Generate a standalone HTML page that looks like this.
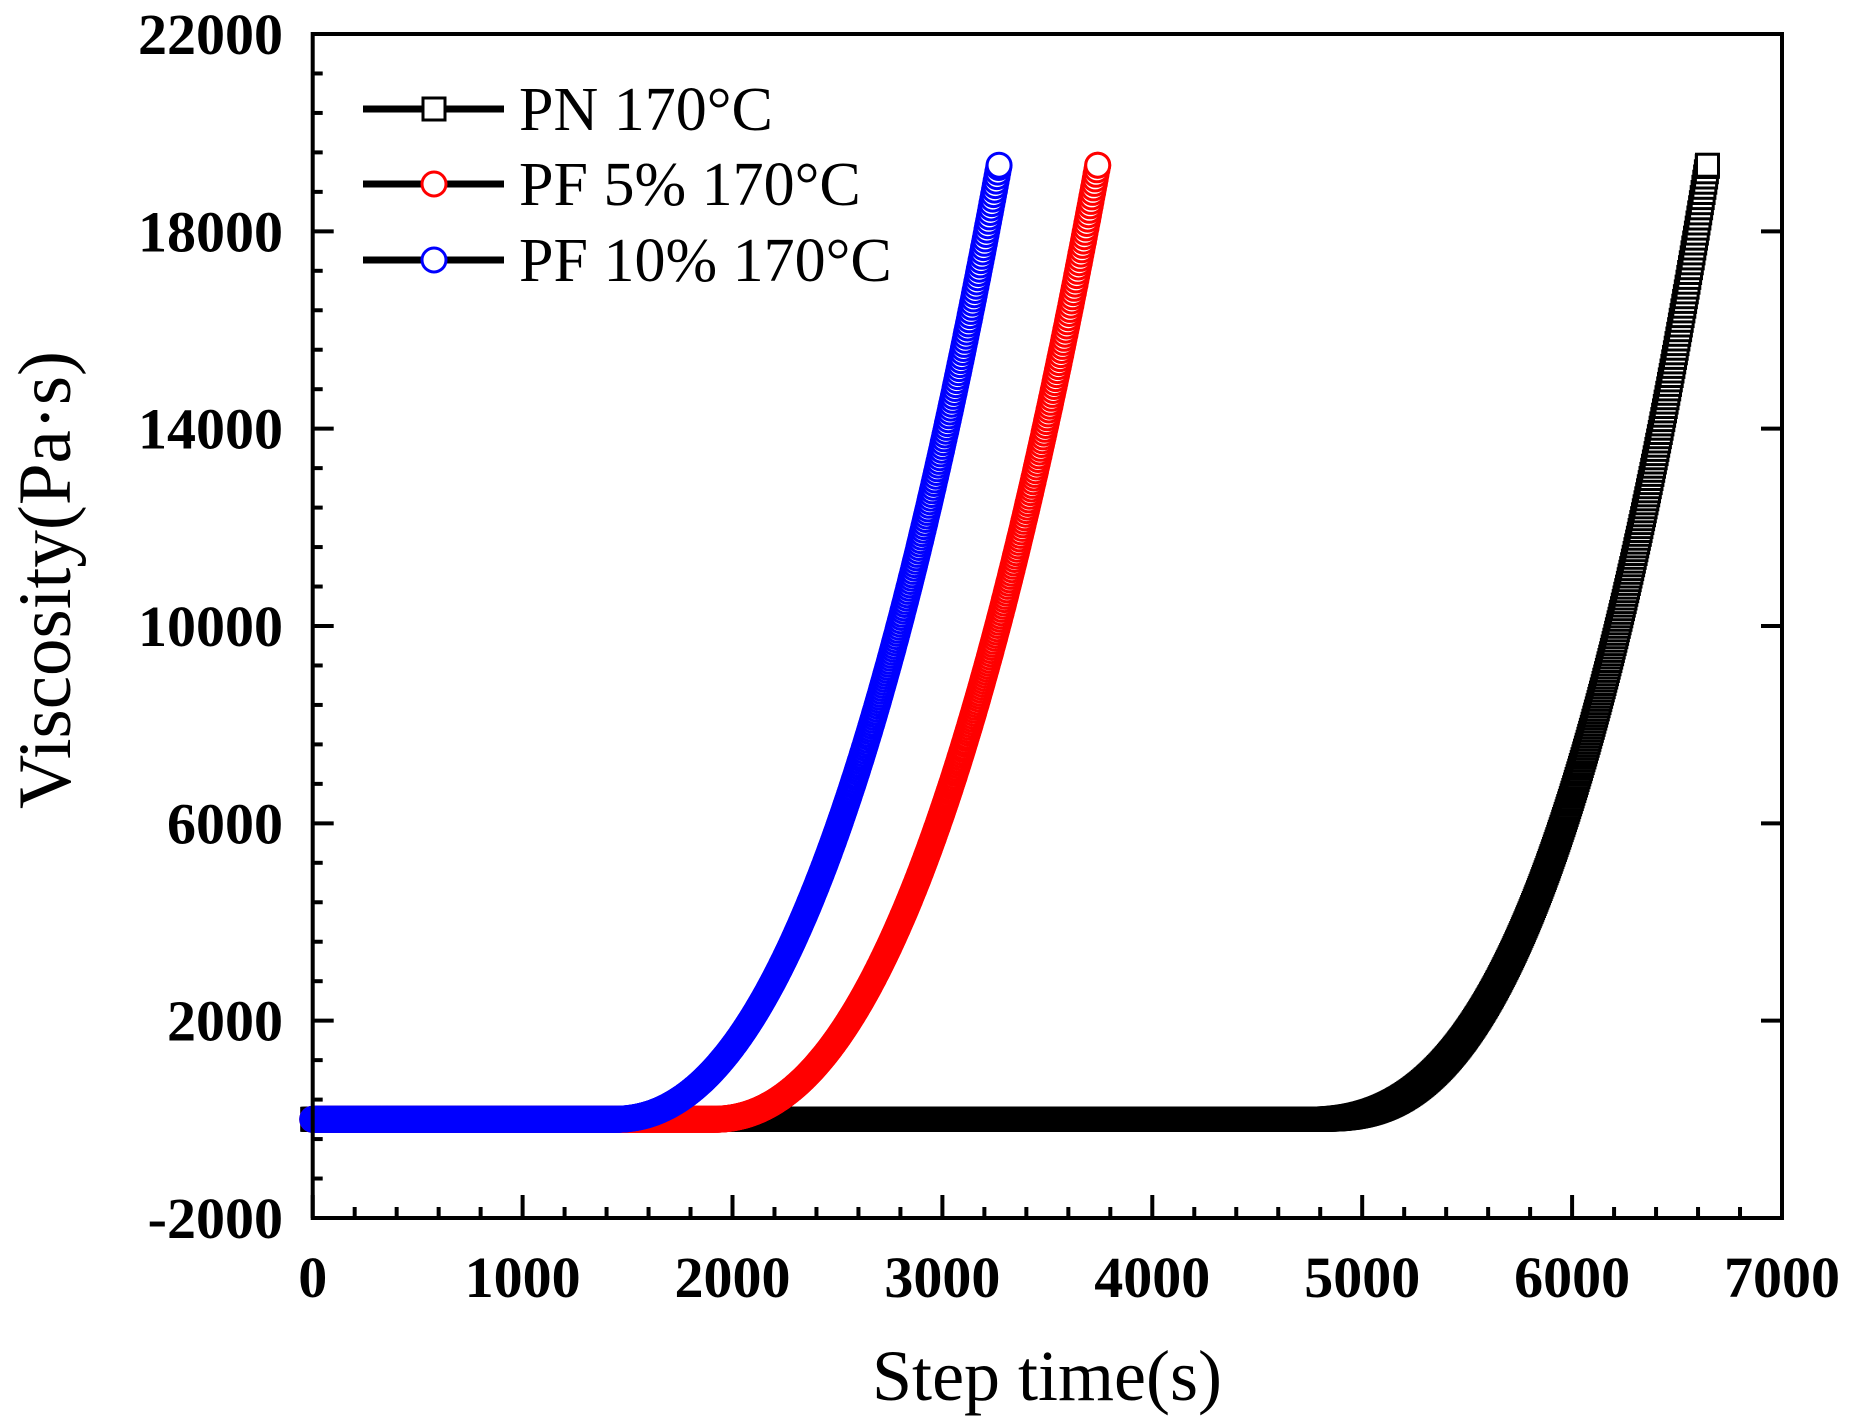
<!DOCTYPE html>
<html><head><meta charset="utf-8"><style>
html,body{margin:0;padding:0;background:#fff;}
svg{display:block;}
text{font-family:"Liberation Serif","Times New Roman",serif;}
</style></head><body>
<svg id="s" width="1850" height="1427" viewBox="0 0 1850 1427" xmlns="http://www.w3.org/2000/svg">
<rect width="1850" height="1427" fill="#fff"/>
<g id="data"></g>
<g id="axes"></g>
<g font-size="62" fill="#000">
<line x1="363" y1="109" x2="504" y2="109" stroke="#000" stroke-width="7"/>
<rect x="423" y="98" width="22" height="22" fill="#fff" stroke="#000" stroke-width="3"/>
<text x="519" y="130">PN 170°C</text>
<line x1="363" y1="184" x2="504" y2="184" stroke="#000" stroke-width="7"/>
<circle cx="434" cy="184" r="12" fill="#fff" stroke="#f00" stroke-width="3"/>
<text x="519" y="205">PF 5% 170°C</text>
<line x1="363" y1="260" x2="504" y2="260" stroke="#000" stroke-width="7"/>
<circle cx="434" cy="260" r="12" fill="#fff" stroke="#00f" stroke-width="3"/>
<text x="519" y="281">PF 10% 170°C</text>
</g>
<text x="1047" y="1400" font-size="72" text-anchor="middle">Step time(s)</text>
<text transform="translate(70,580) rotate(-90)" font-size="75" text-anchor="middle">Viscosity(Pa·s)</text>
</svg>
<script>
var L=312.7,R=1782,T=34,B=1218;
function X(t){return L+(t)*(R-L)/7000;}
function Y(v){return B-(v+2000)*(B-T)/24000;}
var ax=document.getElementById('axes'),h='';
h+='<rect x="'+L+'" y="'+T+'" width="'+(R-L)+'" height="'+(B-T)+'" fill="none" stroke="#000" stroke-width="4"/>';
for(var t=0;t<=7000;t+=200){var x=X(t);var maj=t%1000==0;h+='<line x1="'+x+'" y1="'+B+'" x2="'+x+'" y2="'+(B-(maj?23:11))+'" stroke="#000" stroke-width="4"/>';
if(maj)h+='<text x="'+x+'" y="1297" font-size="58" font-weight="bold" text-anchor="middle">'+t+'</text>';}
for(var v=-2000;v<=22000;v+=800){var y=Y(v);var maj=(v+2000)%4000==0;h+='<line x1="'+L+'" y1="'+y+'" x2="'+(L+(maj?21:10))+'" y2="'+y+'" stroke="#000" stroke-width="4"/>';
if(maj){h+='<text x="283" y="'+(y+20)+'" font-size="58" font-weight="bold" text-anchor="end">'+v+'</text>';h+='<line x1="'+R+'" y1="'+y+'" x2="'+(R-21)+'" y2="'+y+'" stroke="#000" stroke-width="4"/>';}}
ax.innerHTML=h;
var d=document.getElementById('data'),g='';
function series(t0,tend,p,col,sq){var A=19340/Math.pow(tend-t0,p);var s='';
for(var t=0;t<=tend;t+=4){var dt=Math.max(0,t-t0);var v=A*Math.pow(dt,p);var x=X(t),y=Y(v);
if(sq)s+='<rect x="'+(x-11).toFixed(1)+'" y="'+(y-11).toFixed(1)+'" width="22" height="22"/>';
else s+='<circle cx="'+x.toFixed(1)+'" cy="'+y.toFixed(1)+'" r="12"/>';}
var x=X(tend),y=Y(19340);
if(sq)s+='<rect x="'+(x-11)+'" y="'+(y-11)+'" width="22" height="22"/>';else s+='<circle cx="'+x+'" cy="'+y+'" r="12"/>';
return '<g fill="#fff" stroke="'+col+'" stroke-width="3">'+s+'</g>';}
g+=series(4750,6645,2.6,'#000',true);
g+=series(1900,3740,2.2,'#f00',false);
g+=series(1430,3270,2.2,'#00f',false);
d.innerHTML=g;
</script>
</body></html>
